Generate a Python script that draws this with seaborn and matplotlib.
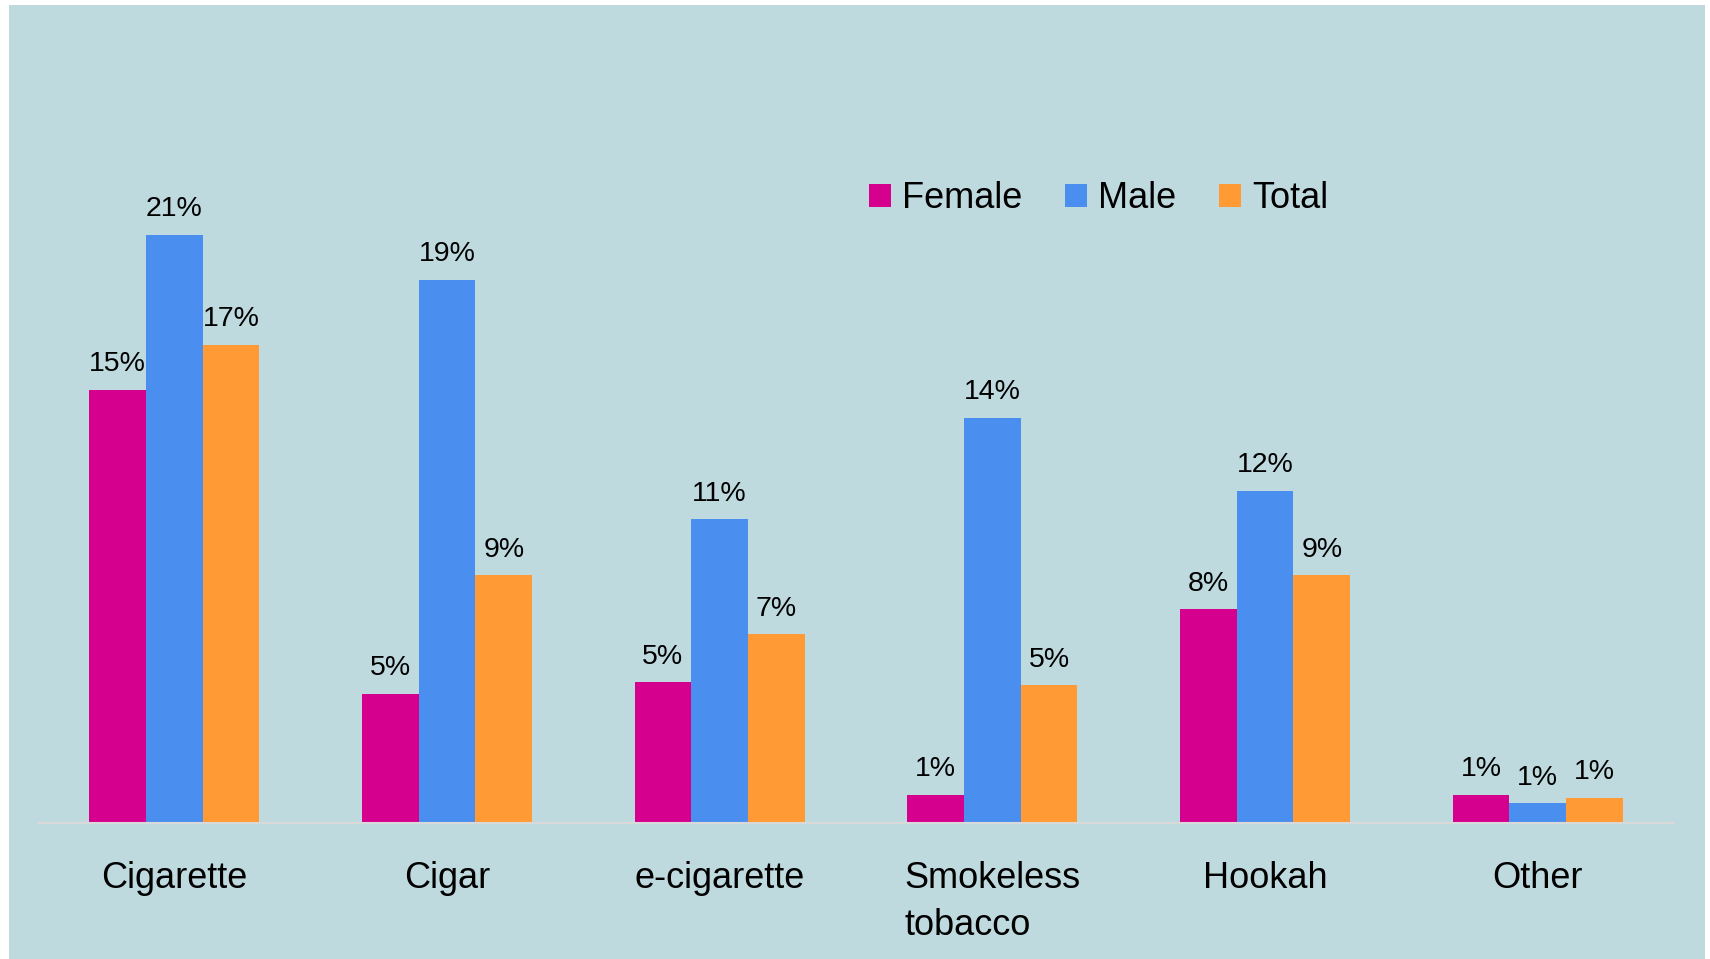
import matplotlib
matplotlib.use("Agg")
import matplotlib.pyplot as plt
import matplotlib.patches as mpatches
import seaborn as sns
import pandas as pd

categories = ["Cigarette", "Cigar", "e-cigarette", "Smokeless\ntobacco", "Hookah", "Other"]
female = [15.4, 4.6, 5.0, 1.0, 7.6, 1.0]
male = [20.9, 19.3, 10.8, 14.4, 11.8, 0.7]
total = [17.0, 8.8, 6.7, 4.9, 8.8, 0.9]
series = ["Female", "Male", "Total"]
colors = ["#D6008F", "#4A8FEF", "#FF9A35"]

rows = []
for name, vals in zip(series, [female, male, total]):
    for c, v in zip(categories, vals):
        rows.append({"category": c, "series": name, "value": v})
df = pd.DataFrame(rows)

sns.set_theme(style="white")
font = ["Liberation Sans Narrow", "Liberation Sans", "DejaVu Sans"]
plt.rcParams["font.family"] = font

W, H = 1710, 959
fig = plt.figure(figsize=(W / 100, H / 100), dpi=100)
fig.patch.set_facecolor("white")
bg = mpatches.Rectangle((9 / W, 0), (1705 - 9) / W, 1 - 5 / H, transform=fig.transFigure,
                        facecolor="#BEDADF", edgecolor="none", zorder=-10)
fig.patches.append(bg)

base_px = 823
top_px = 102
ax = fig.add_axes([38 / W, 1 - base_px / H, (1674 - 38) / W, (base_px - top_px) / H])
ax.set_facecolor("none")
ax.set_zorder(1)

sns.barplot(data=df, x="category", y="value", hue="series", order=categories,
            hue_order=series, palette=colors, width=0.624, saturation=1, gap=0,
            edgecolor="none", linewidth=0, ax=ax, legend=True)

px_per_unit = 28.14
ax.set_xlim(-0.5, 5.5)
ax.set_ylim(0, (base_px - top_px) / px_per_unit)

for cont in ax.containers:
    ax.bar_label(cont, labels=[f"{v:.0f}%" for v in cont.datavalues], padding=9,
                 fontsize=20.5, color="black", family=font)

ax.set_xlabel("")
ax.set_ylabel("")
ax.set_yticks([])
ax.tick_params(axis="x", length=0, pad=27)
for lab in ax.get_xticklabels():
    lab.set_fontsize(26)
    lab.set_color("black")
    lab.set_multialignment("left")
    lab.set_verticalalignment("top")
    lab.set_linespacing(1.45)
for s in ["top", "left", "right"]:
    ax.spines[s].set_visible(False)
ax.spines["bottom"].set_color("#D9D9D9")
ax.spines["bottom"].set_linewidth(1.5)

handles, labels = ax.get_legend_handles_labels()
ax.legend_.remove()
fig.legend(handles, labels, loc="center", bbox_to_anchor=(0.6425, 1 - 199 / H), ncol=3,
           frameon=False, fontsize=26, handlelength=0.6, handleheight=0.6,
           handletextpad=0.3, columnspacing=1.2, labelcolor="black")

fig.savefig("out.png", dpi=100, facecolor=fig.get_facecolor())
